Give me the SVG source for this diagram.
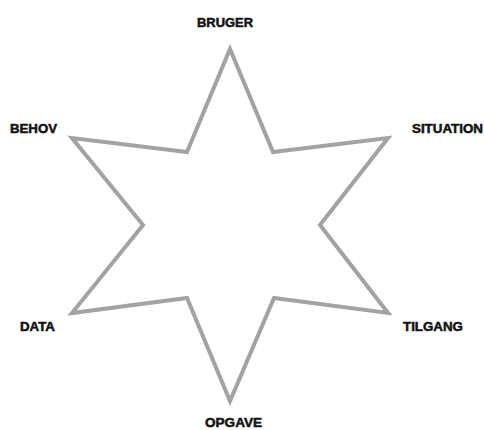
<svg xmlns="http://www.w3.org/2000/svg" width="484" height="430" viewBox="0 0 484 430">
<style>
.lbl{font-family:"Liberation Sans",Arial,sans-serif;font-weight:bold;font-size:12.5px;fill:#111;stroke:#111;stroke-width:0.5;}
.star{fill:none;stroke:#a3a3a3;stroke-width:4;stroke-linejoin:miter;}
</style>
<rect width="484" height="430" fill="#fff"/>
<g id="star">
<polygon class="star" points="230,49 273,152 388,138 320,225 388,313 274,298 230,401 187,298 72,313 143,225 72,138 187,152"/>
</g>
<g id="connectors"></g>
<g id="label-bruger"><text class="lbl" x="197" y="27" textLength="56" lengthAdjust="spacingAndGlyphs">BRUGER</text></g>
<g id="label-behov"><text class="lbl" x="10" y="133" textLength="47" lengthAdjust="spacingAndGlyphs">BEHOV</text></g>
<g id="label-situation"><text class="lbl" x="412" y="133" textLength="71" lengthAdjust="spacingAndGlyphs">SITUATION</text></g>
<g id="label-data"><text class="lbl" x="20" y="331" textLength="35" lengthAdjust="spacingAndGlyphs">DATA</text></g>
<g id="label-tilgang"><text class="lbl" x="403" y="331" textLength="60" lengthAdjust="spacingAndGlyphs">TILGANG</text></g>
<g id="label-opgave"><text class="lbl" x="205" y="427" textLength="57" lengthAdjust="spacingAndGlyphs">OPGAVE</text></g>
</svg>
